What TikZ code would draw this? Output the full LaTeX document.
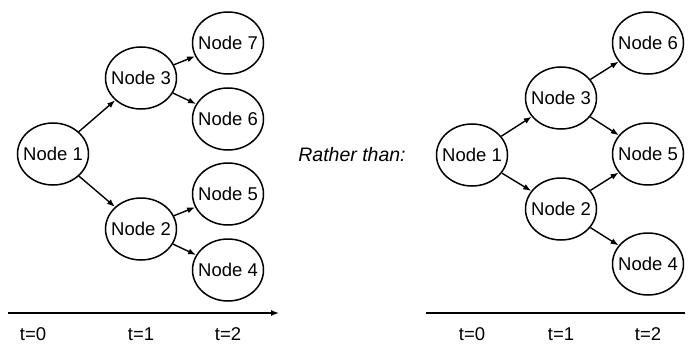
\documentclass[tikz,border=0pt]{standalone}
\usepackage{fontspec}
\setmainfont{Liberation Sans}
\usetikzlibrary{shapes.geometric, arrows.meta}

\newcommand{\nlabel}[1]{\makebox[0pt]{#1}}

\begin{document}
\begin{tikzpicture}[
    x=1pt, y=-1pt,
    state/.style={ellipse, draw, line width=1.5pt, inner sep=0pt, minimum width=71pt, minimum height=62pt, font=\fontsize{18.5}{21}\selectfont},
    link/.style={-{Latex[length=8pt,width=6pt]}, line width=1.4pt},
    tick/.style={font=\fontsize{18.5}{21}\selectfont}
]
\useasboundingbox (0,0) rectangle (691,345);

% tree: every path is its own branch
\node[state] (a1) at (53,154) {\nlabel{Node 1}};
\node[state] (a3) at (141,78) {\nlabel{Node 3}};
\node[state] (a2) at (141,229) {\nlabel{Node 2}};
\node[state] (a7) at (228,43) {\nlabel{Node 7}};
\node[state] (a6) at (228,119) {\nlabel{Node 6}};
\node[state] (a5) at (228,194) {\nlabel{Node 5}};
\node[state] (a4) at (228,270) {\nlabel{Node 4}};

\draw[link] (a1) -- (a3);
\draw[link] (a1) -- (a2);
\draw[link] (a3) -- (a7);
\draw[link] (a3) -- (a6);
\draw[link] (a2) -- (a5);
\draw[link] (a2) -- (a4);

\coordinate (axa0) at (8,313);
\coordinate (axa1) at (279,313);
\draw[link] (axa0) -- (axa1);
\node[tick] (ta0) at (33,334) {t=0};
\node[tick] (ta1) at (141,334) {t=1};
\node[tick] (ta2) at (228,334) {t=2};

\node[tick, font=\fontsize{19.5}{22}\selectfont\itshape] (rather) at (352,155) {Rather than:};

% lattice: branches join again
\node[state] (b1) at (472,155) {\nlabel{Node 1}};
\node[state] (b3) at (561,98) {\nlabel{Node 3}};
\node[state] (b2) at (561,209) {\nlabel{Node 2}};
\node[state] (b6) at (648,43) {\nlabel{Node 6}};
\node[state] (b5) at (648,154) {\nlabel{Node 5}};
\node[state] (b4) at (648,264) {\nlabel{Node 4}};

\draw[link] (b1) -- (b3);
\draw[link] (b1) -- (b2);
\draw[link] (b3) -- (b6);
\draw[link] (b3) -- (b5);
\draw[link] (b2) -- (b5);
\draw[link] (b2) -- (b4);

\coordinate (axb0) at (426,313);
\coordinate (axb1) at (685,313);
\draw[line width=1.4pt] (axb0) -- (axb1);
\node[tick] (tb0) at (472,334) {t=0};
\node[tick] (tb1) at (561,334) {t=1};
\node[tick] (tb2) at (648,334) {t=2};
\end{tikzpicture}
\end{document}
